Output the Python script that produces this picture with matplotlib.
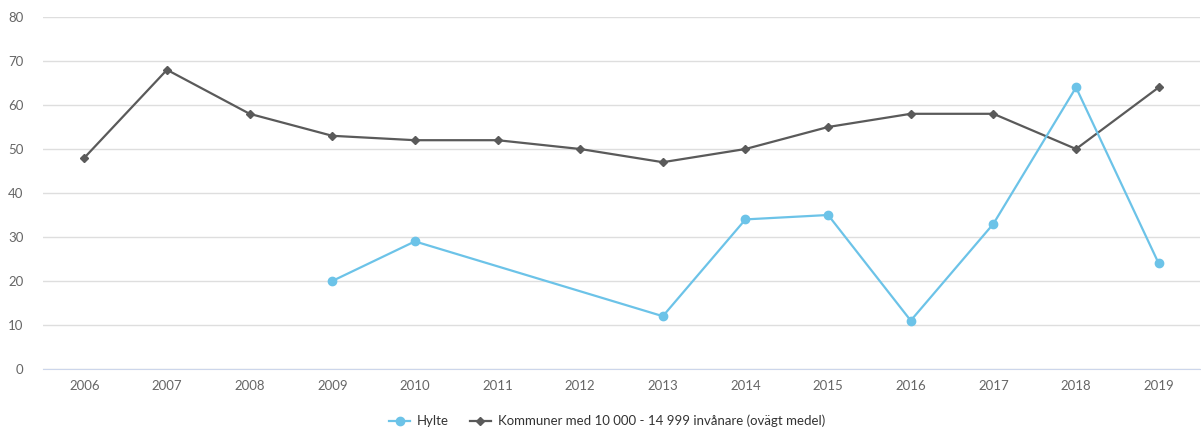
import matplotlib
matplotlib.use("Agg")
import matplotlib.pyplot as plt
import numpy as np

years = [2006, 2007, 2008, 2009, 2010, 2011, 2012, 2013, 2014, 2015, 2016, 2017, 2018, 2019]
hylte = [None, None, None, 20, 29, None, None, 12, 34, 35, 11, 33, 64, 24]
kommuner = [48, 68, 58, 53, 52, 52, 50, 47, 50, 55, 58, 58, 50, 64]
yticks = [0, 10, 20, 30, 40, 50, 60, 70, 80]

plt.rcParams['font.family'] = ['Lato', 'DejaVu Sans']
fig = plt.figure(figsize=(12.01, 4.32), dpi=100)
ax = fig.add_axes([43/1201, 63/432, 1157/1201, 352/432])

x = np.arange(len(years))
hx = [i for i, v in enumerate(hylte) if v is not None]
hy = [v for v in hylte if v is not None]

ax.plot(x, kommuner, color='#5a5a5a', lw=1.6, marker='D', ms=4.2, zorder=3,
        label='Kommuner med 10 000 - 14 999 invånare (ovägt medel)')
ax.plot(hx, hy, color='#6cc3e8', lw=1.6, marker='o', ms=6, zorder=4, label='Hylte')

ax.set_xlim(-0.5, len(years) - 0.5)
ax.set_ylim(0, 80)
ax.set_yticks(yticks)
ax.set_xticks(x)
ax.set_xticklabels([str(y) for y in years])
ax.grid(axis='y', color='#dedede', lw=1)
ax.set_axisbelow(True)
for s in ['top', 'right', 'left']:
    ax.spines[s].set_visible(False)
ax.spines['bottom'].set_color('#ccd6eb')
ax.tick_params(axis='both', length=0, labelsize=9.5, colors='#666666')
ax.tick_params(axis='y', pad=14)
ax.tick_params(axis='x', pad=8)

handles, labels = ax.get_legend_handles_labels()
leg = fig.legend(handles[::-1], labels[::-1], loc='center', bbox_to_anchor=(607/1201, 1 - 421/432),
                 ncol=2, frameon=False, fontsize=9.5, handlelength=1.6, columnspacing=1.6,
                 handletextpad=0.5)
for t in leg.get_texts():
    t.set_color('#333333')

fig.savefig('out.png', dpi=100)
